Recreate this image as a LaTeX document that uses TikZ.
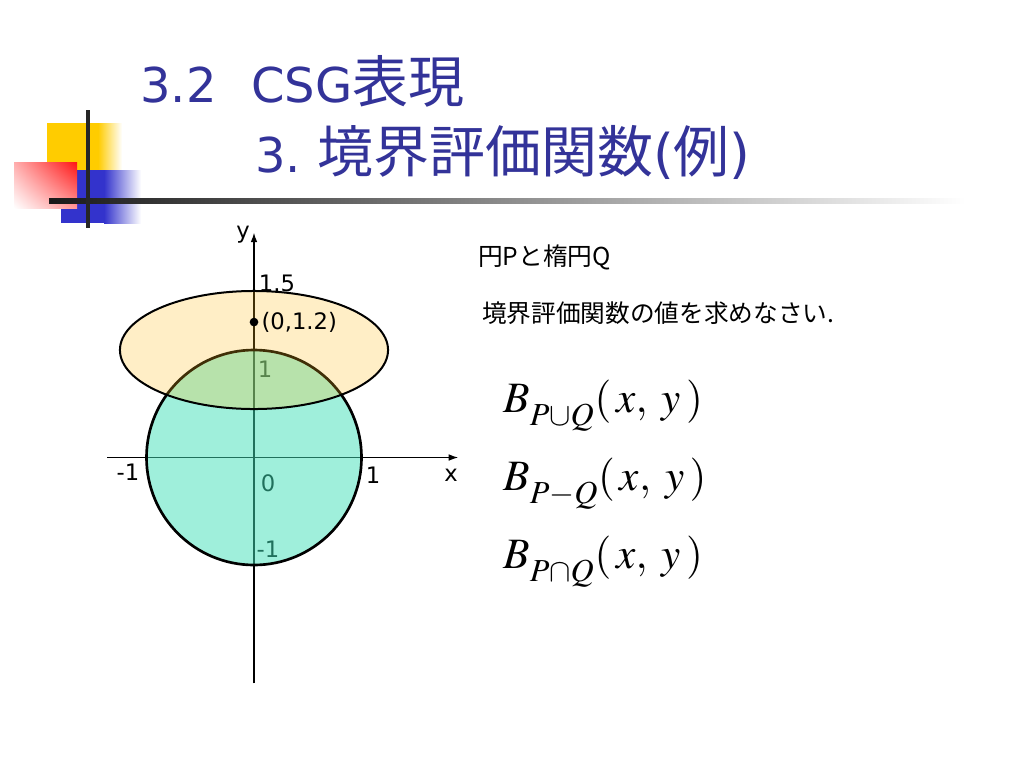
\documentclass[tikz,border=0pt]{standalone}
\usepackage{mathptmx}
\usepackage{fontspec}
\newfontfamily\cjkfont{Noto Sans CJK JP}
\newfontfamily\sansfont{DejaVu Sans}
\usetikzlibrary{arrows.meta,shadings}
\definecolor{titleblue}{RGB}{51,51,153}
\definecolor{decoyellow}{RGB}{255,204,0}
\definecolor{decoblue}{RGB}{51,51,204}
\definecolor{decored}{RGB}{255,20,20}
\definecolor{circfill}{RGB}{65,225,185}
\definecolor{ellfill}{RGB}{255,190,30}
\newcommand{\titlecjk}[1]{{\cjkfont\fontsize{42}{48}\selectfont #1}}
\newcommand{\titleparen}[1]{{\fontsize{40}{48}\selectfont #1}}
\newcommand{\setsub}[1]{\raisebox{-0.16em}{$\scriptstyle #1$}}

\begin{document}
\begin{tikzpicture}[x=0.75pt, y=-0.75pt,
    title/.style={anchor=base west, inner sep=0pt, text=titleblue, font=\sansfont\fontsize{36}{42}\selectfont},
    body/.style={anchor=base west, inner sep=0pt, font=\cjkfont\fontsize{18.5}{22}\selectfont},
    formula/.style={anchor=base west, inner sep=0pt, font=\fontsize{32.5}{38}\selectfont},
    lbl/.style={inner sep=0pt, font=\sansfont\fontsize{17}{20}\selectfont},
    axis/.style={line width=0.8pt, -{Latex[length=7pt,width=5pt]}}
]
    \useasboundingbox (0,0) rectangle (1024,768);
    \fill[white] (0,0) rectangle (1024,768);

    % Decoration
    \fill[decoyellow] (47,123) rectangle (98,196);
    \shade[left color=decoyellow, right color=white] (98,123) rectangle (122,196);
    \fill[decoblue] (61,170) rectangle (104,223);
    \shade[left color=decoblue, right color=white] (104,170) rectangle (141,223);
    \shade[upper right=decored, upper left=decored!35, lower right=decored!45, lower left=white] (14,162) rectangle (77,208);
    \shade[left color=black!90, right color=white] (49,198.5) rectangle (965,203.5);
    \fill[black!85] (85.5,110) rectangle (89.5,228);

    % Title
    \node[title] (title1) at (140,102) {3.2\hspace{26pt}CSG\titlecjk{表現}};
    \node[title] (title2) at (255,172) {3.\hspace{12pt}\titlecjk{境界評価関数}\titleparen{(}\titlecjk{例}\titleparen{)}};

    % Text
    \node[body] (pq)   at (478,265) {円Pと楕円Q};
    \node[body] (task) at (482,322) {境界評価関数の値を求めなさい.};
    \node[formula] (bunion) at (503,412) {$B_{\setsub{P\cup Q}}(\,x,\;y\,)$};
    \node[formula] (bminus) at (503,490) {$B_{\setsub{P-Q}}(\,x,\;y\,)$};
    \node[formula] (binter) at (503,568) {$B_{\setsub{P\cap Q}}(\,x,\;y\,)$};

    % Plot
    \begin{scope}[shift={(254,457.5)}, x=80.625pt, y=80.625pt]
        \coordinate (o)  at (0,0);
        \coordinate (xs) at (-1.367,0);
        \coordinate (xe) at (1.898,0);
        \coordinate (ys) at (0,-2.1);
        \coordinate (ye) at (0,2.09);
        \draw[axis] (xs) -- (xe);
        \draw[axis] (ys) -- (ye);

        \node[lbl] (ylbl) at (-0.102,2.07) {y};
        \node[lbl] (ytop) at (0.214,1.623) {1.5};
        \node[lbl] (yone) at (0.102,0.823) {1};
        \node[lbl] (xneg) at (-1.172,-0.135) {-1};
        \node[lbl] (zero) at (0.13,-0.237) {0};
        \node[lbl] (xone) at (1.107,-0.163) {1};
        \node[lbl] (xlbl) at (1.833,-0.17) {x};
        \node[lbl] (yneg) at (0.13,-0.851) {-1};

        % P and Q
        \filldraw[fill=circfill, fill opacity=0.5, line width=2pt] (o) circle[radius=1];
        \filldraw[fill=ellfill, fill opacity=0.25, line width=1.5pt] (0,1) ellipse[x radius=1.247, y radius=0.549];

        \node[circle, fill, inner sep=0pt, minimum size=6.5pt] (dot) at (0,1.26) {};
        \node[lbl, anchor=west, xshift=2pt] (dotlbl) at (dot.east) {(0,1.2)};
    \end{scope}
\end{tikzpicture}
\end{document}
